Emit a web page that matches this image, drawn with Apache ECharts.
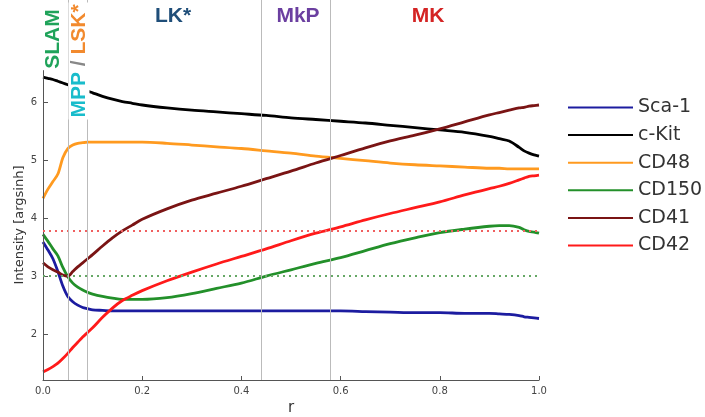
<!DOCTYPE html>
<html>
<head>
<meta charset="utf-8">
<script src="https://cdn.jsdelivr.net/npm/echarts@6/dist/echarts.min.js"></script>
<style>html,body{margin:0;padding:0;background:#fff}#c{width:705px;height:417px}</style>
</head>
<body>
<div id="c"></div>
<script>
const r = [0,0.01,0.02,0.03,0.04,0.05,0.06,0.07,0.08,0.09,0.1,0.12,0.14,0.16,0.18,0.2,0.25,0.3,0.35,0.4,0.45,0.5,0.55,0.6,0.65,0.7,0.75,0.8,0.85,0.9,0.92,0.94,0.96,0.97,0.98,0.99,1.0];
const sca1 = [3.59,3.45,3.30,3.08,2.83,2.65,2.56,2.50,2.46,2.44,2.42,2.41,2.40,2.40,2.40,2.40,2.40,2.40,2.40,2.40,2.40,2.40,2.40,2.40,2.39,2.38,2.37,2.37,2.36,2.36,2.35,2.34,2.32,2.30,2.29,2.28,2.27];
const ckit = [6.43,6.41,6.39,6.36,6.33,6.30,6.27,6.24,6.21,6.19,6.16,6.10,6.05,6.01,5.98,5.95,5.90,5.86,5.83,5.80,5.77,5.73,5.70,5.67,5.64,5.60,5.56,5.52,5.48,5.41,5.37,5.33,5.22,5.16,5.12,5.09,5.07];
const cd48 = [4.34,4.50,4.63,4.76,5.04,5.20,5.26,5.29,5.30,5.31,5.31,5.31,5.31,5.31,5.31,5.31,5.29,5.26,5.23,5.20,5.16,5.12,5.07,5.03,4.99,4.95,4.92,4.90,4.88,4.86,4.86,4.85,4.85,4.85,4.85,4.85,4.85];
const cd150 = [3.72,3.60,3.47,3.35,3.15,2.99,2.88,2.81,2.76,2.72,2.69,2.65,2.62,2.60,2.60,2.60,2.63,2.70,2.79,2.88,3.00,3.11,3.22,3.32,3.44,3.56,3.66,3.75,3.81,3.86,3.87,3.87,3.84,3.80,3.77,3.76,3.74];
const cd41 = [3.23,3.16,3.11,3.07,3.02,3.00,3.08,3.16,3.23,3.30,3.37,3.52,3.66,3.78,3.88,3.98,4.16,4.31,4.43,4.55,4.68,4.81,4.95,5.08,5.21,5.33,5.43,5.54,5.66,5.78,5.82,5.86,5.90,5.91,5.93,5.94,5.95];
const cd42 = [1.35,1.39,1.44,1.50,1.58,1.67,1.77,1.86,1.95,2.03,2.11,2.29,2.45,2.58,2.67,2.75,2.92,3.07,3.21,3.34,3.47,3.61,3.74,3.85,3.97,4.08,4.18,4.28,4.40,4.51,4.55,4.60,4.66,4.69,4.72,4.73,4.74];
const seriesNames = ['Sca-1','c-Kit','CD48','CD150','CD41','CD42'];
const seriesValues = [sca1, ckit, cd48, cd150, cd41, cd42];
const seriesColors = ['#1c1ca0','#000000','#ff9a1f','#23902a','#7a1414','#ff1a1a'];
const boundaries = [0.0464, 0.0937, 0.4409, 0.5786];
const cd42Threshold = 3.79;
const cd150Threshold = 3.0;
const yTicks = [2,3,4,5,6];
const yMin = 1.21, yMax = 7.76, yAxisTop = 6.55;

const chart = echarts.init(document.getElementById('c'));
const lineSeries = seriesNames.map((n, i) => ({
  name: n, type: 'line', symbol: 'none', smooth: 0.3, z: 3,
  data: r.map((x, j) => [x, seriesValues[i][j]]),
  lineStyle: { color: seriesColors[i], width: 2.8 },
  itemStyle: { color: seriesColors[i] }
}));
const axisColor = '#555';
const option = {
  animation: false,
  grid: { left: 43, right: 166, top: 0, bottom: 37, containLabel: false, outerBoundsMode: 'none' },
  xAxis: {
    type: 'value', min: 0, max: 1, interval: 0.2,
    name: 'r', nameLocation: 'middle', nameGap: 21,
    nameTextStyle: { fontFamily: 'DejaVu Sans', fontSize: 15, color: '#333' },
    axisLine: { lineStyle: { color: axisColor } },
    axisTick: { inside: true, length: 4, lineStyle: { color: axisColor } },
    axisLabel: { fontFamily: 'DejaVu Sans', fontSize: 10, color: '#444', margin: 6, formatter: v => v.toFixed(1) },
    splitLine: { show: false }
  },
  yAxis: {
    type: 'value', min: yMin, max: yMax,
    axisLine: { show: false },
    axisTick: { show: true, inside: true, length: 5, customValues: yTicks, lineStyle: { color: axisColor } },
    axisLabel: { fontFamily: 'DejaVu Sans', fontSize: 10, color: '#444', margin: 6, customValues: yTicks },
    splitLine: { show: false }
  },
  legend: {
    orient: 'vertical', left: 563, top: 93,
    data: seriesNames, itemWidth: 65, itemHeight: 20, itemGap: 8.6,
    icon: 'path://M0,9 L65,9 L65,11 L0,11 Z',
    textStyle: { fontFamily: 'DejaVu Sans', fontSize: 19, color: '#333', padding: [0,0,0,0] }
  },
  series: [
    {
      name: '_guides', type: 'line', data: [], z: 1, silent: true,
      markLine: {
        silent: true, symbol: 'none', animation: false,
        label: { show: false },
        data: [
          [{ coord: [0, yMin], lineStyle: { color: axisColor, width: 1, type: 'solid' } }, { coord: [0, yAxisTop] }],
          { yAxis: cd42Threshold, lineStyle: { color: '#f06060', width: 2, type: [2, 4] } },
          { yAxis: cd150Threshold, lineStyle: { color: '#66a866', width: 2, type: [2, 4] } }
        ]
      }
    },
    ...lineSeries,
    {
      name: '_bounds', type: 'line', data: [], z: 60, silent: true,
      markLine: {
        silent: true, symbol: 'none', animation: false,
        label: { show: false },
        lineStyle: { color: '#bbbbbb', width: 1, type: 'solid' },
        data: boundaries.map(b => ({ xAxis: b }))
      }
    }
  ],
  graphic: [
    { type: 'text', x: 20, y: 225, rotation: Math.PI / 2, z: 50,
      style: { text: 'Intensity [argsinh]', font: '13px "DejaVu Sans"', fill: '#333', align: 'center', verticalAlign: 'middle' } },
    { type: 'text', x: 53, y: 39, rotation: Math.PI / 2, z: 50,
      style: { text: 'SLAM', font: 'bold 21px "Liberation Sans"', fill: '#1fa35a', align: 'center', verticalAlign: 'middle' } },
    { type: 'text', x: 79, y: 61, rotation: Math.PI / 2, z: 50,
      style: { text: '{a|MPP} {b|/} {c|LSK*}', font: 'bold 21px "Liberation Sans"', align: 'center', verticalAlign: 'middle',
        backgroundColor: '#ffffff', lineHeight: 21, padding: [0, 2],
        rich: {
          a: { fill: '#19bccb', font: 'bold 21px "Liberation Sans"' },
          b: { fill: '#888888', font: 'bold 21px "Liberation Sans"' },
          c: { fill: '#f28a2e', font: 'bold 21px "Liberation Sans"' }
        } } },
    { type: 'text', x: 173, y: 16, z: 50,
      style: { text: 'LK*', font: 'bold 21px "Liberation Sans"', fill: '#1f4e79', align: 'center', verticalAlign: 'middle' } },
    { type: 'text', x: 298, y: 16, z: 50,
      style: { text: 'MkP', font: 'bold 21px "Liberation Sans"', fill: '#6b3fa0', align: 'center', verticalAlign: 'middle' } },
    { type: 'text', x: 428, y: 16, z: 50,
      style: { text: 'MK', font: 'bold 21px "Liberation Sans"', fill: '#d42424', align: 'center', verticalAlign: 'middle' } }
  ]
};
chart.setOption(option);
</script>
</body>
</html>
